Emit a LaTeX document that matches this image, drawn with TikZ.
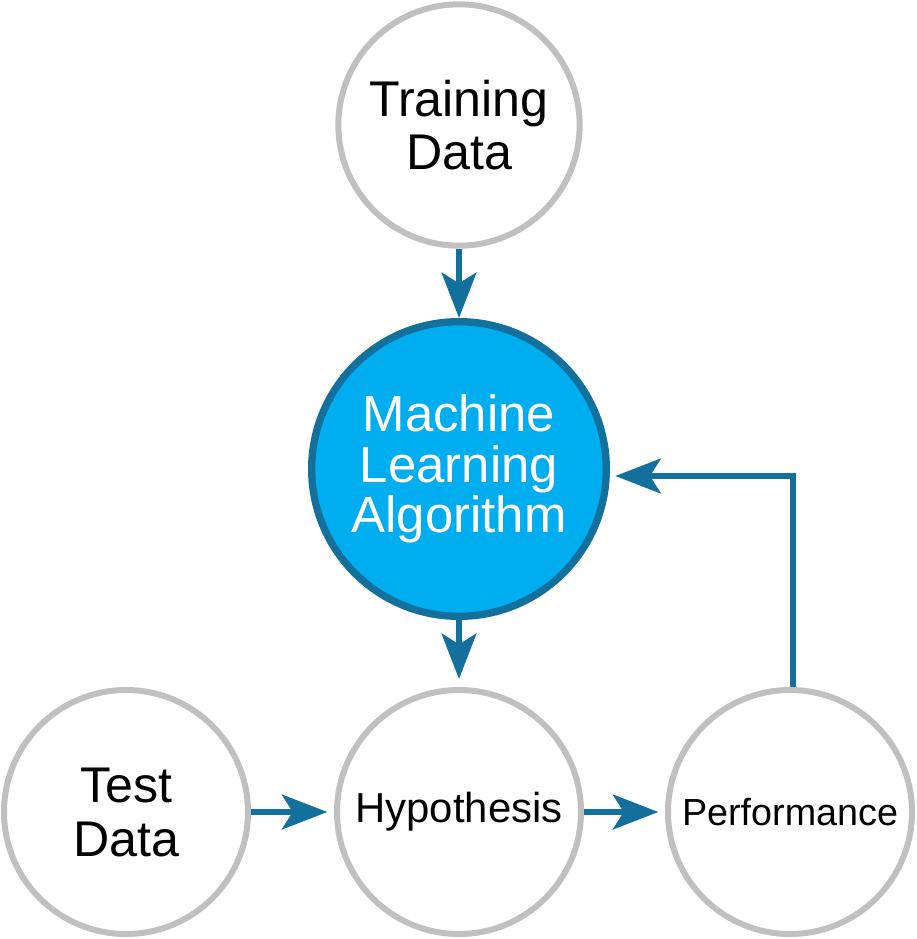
\documentclass[tikz,border=0pt]{standalone}
\usepackage{fontspec}
\setmainfont{Liberation Sans}
\usetikzlibrary{arrows.meta}

\definecolor{flowblue}{RGB}{19,111,155}
\definecolor{algofill}{RGB}{0,174,239}
\definecolor{ringgrey}{RGB}{192,192,192}

\tikzset{
  datacircle/.style={circle,draw=ringgrey,line width=4.5pt,fill=white,align=center,inner sep=0pt},
  flow/.style={draw=flowblue,line width=4.5pt,-{Stealth[length=34pt,width=26pt,inset=8pt]}},
}

\begin{document}
\begin{tikzpicture}[x=0.75pt,y=0.75pt,yscale=-1,xscale=1]
\useasboundingbox (0,0) rectangle (917,939);

%Circles
\node [datacircle,minimum size=181pt,font=\fontsize{37.6}{39.5}\selectfont] (train) at (459,125) {Training\\Data};
\node [circle,draw=flowblue,line width=5.5pt,fill=algofill,text=white,align=center,inner sep=0pt,minimum size=221pt,font=\fontsize{38.2}{38}\selectfont] (algo) at (459,469) {Machine\\Learning\\Algorithm};
\node [datacircle,minimum size=183pt,font=\fontsize{37.6}{40.5}\selectfont] (test) at (126,812) {Test\\Data};
\node [datacircle,minimum size=183pt,font=\fontsize{31.4}{32}\selectfont] (hypo) at (459,812) {Hypothesis};
\node [datacircle,minimum size=183pt,font=\fontsize{28.3}{30}\selectfont] (perf) at (790,812) {Performance};

%Arrows
\draw [flow] (train) -- (algo);
\draw [flow,shorten >=6pt] (algo) -- (hypo);
\draw [flow,shorten >=5pt] (test) -- (hypo);
\draw [flow,shorten >=5pt] (hypo) -- (perf);
\coordinate (turn) at (793,476);
\draw [flow,shorten >=4pt] (perf.north -| turn) -- (turn) -- (turn -| algo.east);

\end{tikzpicture}
\end{document}
